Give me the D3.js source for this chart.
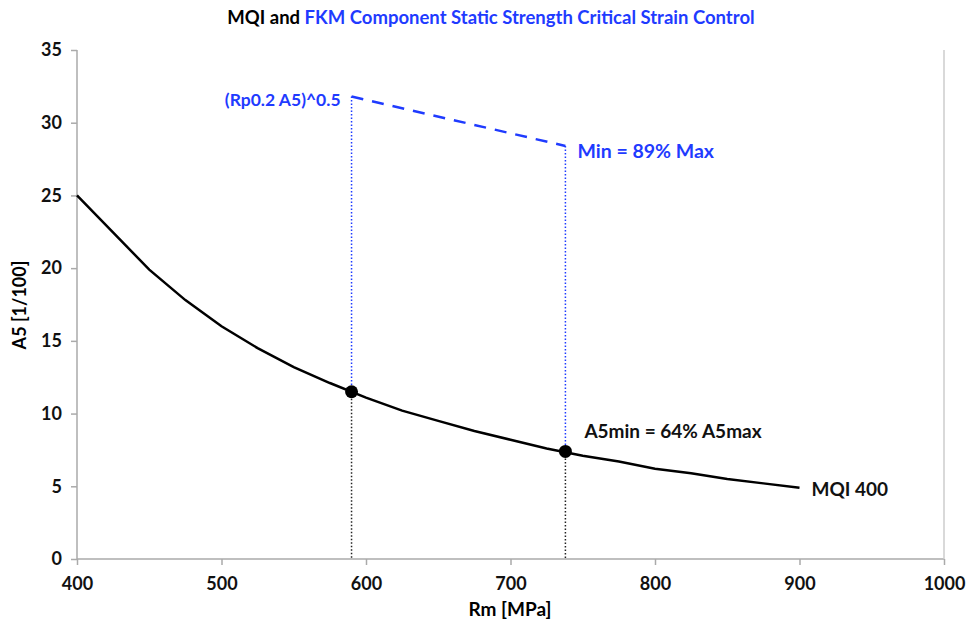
<!DOCTYPE html>
<html><head><meta charset="utf-8">
<script src="https://cdn.jsdelivr.net/npm/d3@7"></script>
<style>body{margin:0;background:#fff}svg{font-family:Lato,"Open Sans",sans-serif;font-weight:bold}</style>
</head><body><svg id="c" width="969" height="630"></svg>
<script>
const rmValues = [400,450,475,500,525,550,575,600,625,650,675,700,725,750,775,800,825,850,875,900];
const a5Values = [25.0,19.9,17.8,16.0,14.5,13.2,12.1,11.1,10.2,9.5,8.8,8.2,7.6,7.1,6.7,6.2,5.9,5.5,5.2,4.9];
const markerRm = [590,738];
const markerA5 = [11.5,7.4];
const limitA5 = [31.8,28.4];
const xTicks = [400,500,600,700,800,900,1000];
const yTicks = [0,5,10,15,20,25,30,35];
const BLUE = "#1f3bff";

const svg = d3.select("#c");
const x = d3.scaleLinear().domain([400,1000]).range([77,944]);
const y = d3.scaleLinear().domain([0,35]).range([559,50]);

// title
const t = svg.append("text").attr("x",491).attr("y",24).attr("text-anchor","middle").style("font-size","18.5px");
t.append("tspan").attr("fill","#000").text("MQI and ");
t.append("tspan").attr("fill",BLUE).text("FKM Component Static Strength Critical Strain Control");

// axes
const xa = svg.append("g").attr("transform","translate(0,559)").call(d3.axisBottom(x).tickValues(xTicks).tickSize(6).tickPadding(12).tickFormat(d3.format("d")));
const ya = svg.append("g").attr("transform","translate(77,0)").call(d3.axisLeft(y).tickValues(yTicks).tickSize(6).tickPadding(9));
[xa,ya].forEach(a=>{a.select(".domain").attr("stroke","#aaa").attr("stroke-width",1.5);
 a.selectAll(".tick line").attr("stroke","#aaa").attr("stroke-width",1.5);
 a.selectAll("text").style("font-size","18px").style("font-family","Lato,sans-serif").style("font-weight","bold").attr("fill","#111");});
ya.select(".domain").attr("d","M0,50V559");
xa.select(".domain").attr("d","M"+x(400)+",0H"+x(1000));
svg.append("line").attr("x1",x(1000)).attr("x2",x(1000)).attr("y1",y(35)).attr("y2",y(0)).attr("stroke","#ccc").attr("stroke-width",1.5);

svg.append("text").attr("x",510).attr("y",616).attr("text-anchor","middle").style("font-size","19px").text("Rm [MPa]");
svg.append("text").attr("transform","translate(26,305) rotate(-90)").attr("text-anchor","middle").style("font-size","18px").text("A5 [1/100]");

// curve
const line = d3.line().x((d,i)=>x(rmValues[i])).y(d=>y(d));
svg.append("path").datum(a5Values).attr("d",line).attr("fill","none").attr("stroke","#000").attr("stroke-width",2.5);

// dotted verticals
markerRm.forEach((r,i)=>{
  svg.append("line").attr("x1",x(r)).attr("x2",x(r)).attr("y1",y(markerA5[i])).attr("y2",y(0)).attr("stroke","#222").attr("stroke-width",1.5).attr("stroke-dasharray","1.5,2");
  svg.append("line").attr("x1",x(r)).attr("x2",x(r)).attr("y1",y(limitA5[i])).attr("y2",y(markerA5[i])).attr("stroke",BLUE).attr("stroke-width",1.5).attr("stroke-dasharray","1.5,2");
});
// dashed limit
svg.append("line").attr("x1",x(markerRm[0])).attr("x2",x(markerRm[1])).attr("y1",y(limitA5[0])).attr("y2",y(limitA5[1])).attr("stroke",BLUE).attr("stroke-width",2.5).attr("stroke-dasharray","12,9");

// markers
svg.selectAll("circle.m").data(markerRm).enter().append("circle").attr("cx",d=>x(d)).attr("cy",(d,i)=>y(markerA5[i])).attr("r",6.5).attr("fill","#000");

// labels
svg.append("text").attr("x",x(markerRm[0])-11).attr("y",y(limitA5[0])+9).attr("text-anchor","end").attr("fill",BLUE).style("font-size","17.5px").text("(Rp0.2 A5)^0.5");
svg.append("text").attr("x",x(markerRm[1])+12).attr("y",y(limitA5[1])+12).attr("fill",BLUE).style("font-size","19.5px").text("Min = 89% Max");
svg.append("text").attr("x",x(markerRm[1])+19).attr("y",y(markerA5[1])-13).attr("fill","#111").style("font-size","19px").text("A5min = 64% A5max");
svg.append("text").attr("x",x(900)+12).attr("y",y(4.9)+8).attr("fill","#111").style("font-size","19px").text("MQI 400");
</script></body></html>
